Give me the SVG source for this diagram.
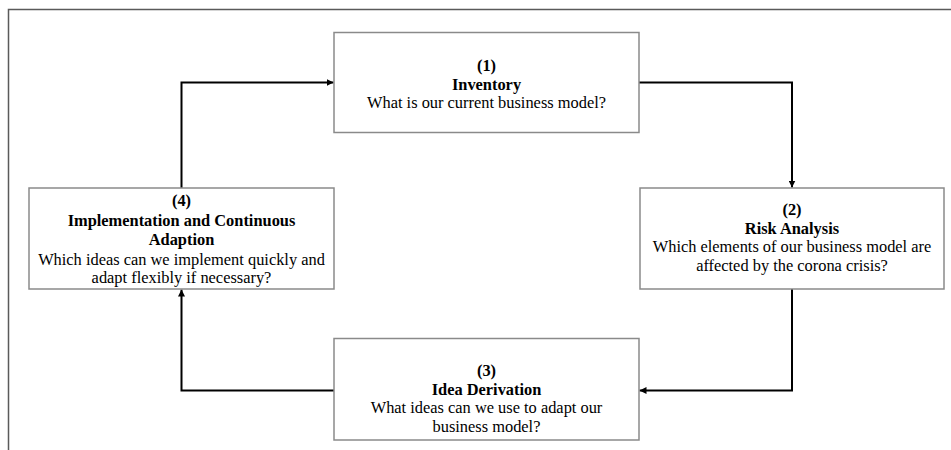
<svg xmlns="http://www.w3.org/2000/svg" width="951" height="450" viewBox="0 0 951 450">
<style>
.box{fill:#fff;stroke:#8a8a8a;stroke-width:1.5}
.frame{fill:none;stroke:#5a5a5a;stroke-width:1.5}
.conn{fill:none;stroke:#000;stroke-width:2}
text{font-family:"Liberation Serif","Times New Roman",serif;font-size:16.4px;fill:#000;text-anchor:middle}
.b{font-weight:bold}
</style>
<defs>
<marker id="arr" viewBox="0 0 10 10" refX="10" refY="5" markerWidth="7" markerHeight="7" markerUnits="userSpaceOnUse" orient="auto">
<path d="M0,0 L10,5 L0,10 z" fill="#000"/>
</marker>
</defs>
<path class="frame" d="M8.5,450 L8.5,9.5 L951,9.5"/>
<g id="connectors">
<path class="conn" d="M639,82.5 L792,82.5 L792,187.5" marker-end="url(#arr)"/>
<path class="conn" d="M792,289 L792,390.5 L639.5,390.5" marker-end="url(#arr)"/>
<path class="conn" d="M334,390.5 L181.5,390.5 L181.5,289.5" marker-end="url(#arr)"/>
<path class="conn" d="M181.5,188 L181.5,82.5 L333.5,82.5" marker-end="url(#arr)"/>
</g>
<g id="node1">
<rect class="box" x="334" y="32.5" width="305" height="100"/>
<text x="486.5" y="71" class="b">(1)</text>
<text x="486.5" y="89.5" class="b">Inventory</text>
<text x="486.5" y="108">What is our current business model?</text>
</g>
<g id="node2">
<rect class="box" x="640" y="188" width="304" height="101"/>
<text x="792" y="214.5" class="b">(2)</text>
<text x="792" y="233.5" class="b">Risk Analysis</text>
<text x="792" y="252">Which elements of our business model are</text>
<text x="792" y="270.5">affected by the corona crisis?</text>
</g>
<g id="node3">
<rect class="box" x="334" y="338.5" width="305" height="101.5"/>
<text x="486.5" y="376" class="b">(3)</text>
<text x="486.5" y="394.5" class="b">Idea Derivation</text>
<text x="486.5" y="413">What ideas can we use to adapt our</text>
<text x="486.5" y="431.5">business model?</text>
</g>
<g id="node4">
<rect class="box" x="29" y="188" width="305" height="101"/>
<text x="181.5" y="206" class="b">(4)</text>
<text x="181.5" y="225.5" class="b">Implementation and Continuous</text>
<text x="181.5" y="245" class="b">Adaption</text>
<text x="181.5" y="264.5">Which ideas can we implement quickly and</text>
<text x="181.5" y="283">adapt flexibly if necessary?</text>
</g>
</svg>
